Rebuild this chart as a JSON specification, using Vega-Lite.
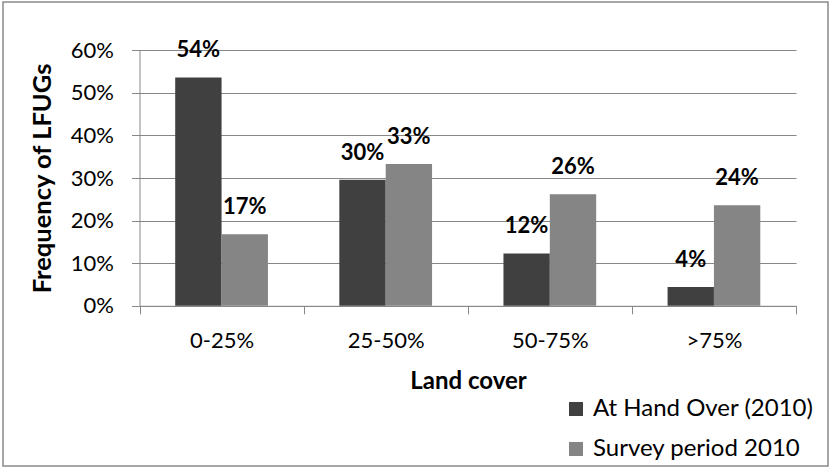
{
  "$schema": "https://vega.github.io/schema/vega-lite/v6.json",
  "autosize": {"type": "none"},
  "width": 825,
  "height": 464,
  "padding": {"left": 3, "top": 2, "right": 2, "bottom": 2},
  "background": "#ffffff",
  "config": {
    "view": {"stroke": "#8a8a8a", "strokeWidth": 1.5},
    "font": "Lato",
    "axis": {"labelFont": "Lato", "titleFont": "Lato", "labelColor": "#000000", "titleColor": "#000000"}
  },
  "data": {
    "values": [
      {"cover": "0-25%", "series": "At Hand Over (2010)", "freq": 0.536},
      {"cover": "0-25%", "series": "Survey period 2010", "freq": 0.168},
      {"cover": "25-50%", "series": "At Hand Over (2010)", "freq": 0.296},
      {"cover": "25-50%", "series": "Survey period 2010", "freq": 0.333},
      {"cover": "50-75%", "series": "At Hand Over (2010)", "freq": 0.123},
      {"cover": "50-75%", "series": "Survey period 2010", "freq": 0.262},
      {"cover": ">75%", "series": "At Hand Over (2010)", "freq": 0.044},
      {"cover": ">75%", "series": "Survey period 2010", "freq": 0.236}
    ]
  },
  "encoding": {
    "x": {
      "field": "cover",
      "type": "nominal",
      "sort": null,
      "scale": {"range": [136.5, 793], "paddingInner": 0, "paddingOuter": 0},
      "axis": {
        "title": "Land cover",
        "offset": -160.2,
        "labelAngle": 0,
        "labelFontSize": 22,
        "labelPadding": 17,
        "tickBand": "extent",
        "tickSize": 8,
        "tickColor": "#878787",
        "domainColor": "#878787",
        "grid": false,
        "titleFontSize": 24,
        "titleFontWeight": "bold",
        "titleX": 465,
        "titleY": 83,
        "titleAlign": "center",
        "titleBaseline": "alphabetic"
      }
    },
    "xOffset": {
      "field": "series",
      "type": "nominal",
      "sort": ["At Hand Over (2010)", "Survey period 2010"],
      "scale": {"paddingInner": 0, "paddingOuter": 0.77}
    },
    "y": {
      "field": "freq",
      "type": "quantitative",
      "scale": {"domain": [0, 0.6], "range": [303.8, 48.2], "nice": false},
      "axis": {
        "title": "Frequency of LFUGs",
        "offset": -136.5,
        "values": [0, 0.1, 0.2, 0.3, 0.4, 0.5, 0.6],
        "format": ".0%",
        "labelFontSize": 22,
        "labelPadding": 18,
        "tickSize": 8,
        "tickColor": "#878787",
        "domainColor": "#878787",
        "gridColor": "#878787",
        "gridWidth": 1,
        "titleFontSize": 25.5,
        "titleFontWeight": "bold",
        "titleAngle": -90,
        "titleX": -89.5,
        "titleY": 176,
        "titleAlign": "center",
        "titleBaseline": "alphabetic"
      }
    }
  },
  "layer": [
    {
      "mark": {"type": "bar"},
      "encoding": {
        "color": {
          "field": "series",
          "type": "nominal",
          "sort": ["At Hand Over (2010)", "Survey period 2010"],
          "scale": {"range": ["#404040", "#858585"]},
          "legend": {
            "title": null,
            "orient": "none",
            "legendX": 561,
            "legendY": 395,
            "padding": 0,
            "symbolType": "square",
            "symbolSize": 196,
            "symbolStrokeWidth": 0,
            "labelFont": "Lato",
            "labelFontSize": 24,
            "labelColor": "#000000",
            "labelOffset": 5,
            "rowPadding": 16,
            "labelLimit": 400
          }
        }
      }
    },
    {
      "mark": {"type": "text", "font": "Lato", "fontSize": 22, "fontWeight": "bold", "baseline": "alphabetic", "align": "center", "dy": -20, "color": "#000000"},
      "encoding": {
        "text": {"field": "freq", "type": "quantitative", "format": ".0%"}
      }
    }
  ]
}
